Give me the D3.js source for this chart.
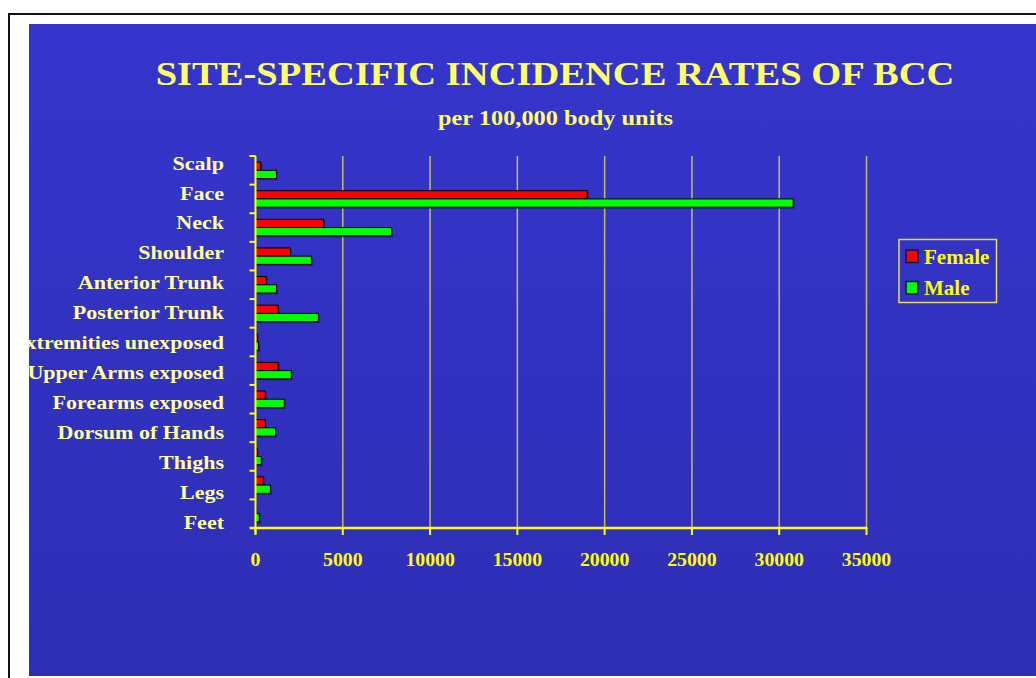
<!DOCTYPE html>
<html>
<head>
<meta charset="utf-8">
<script src="https://cdn.jsdelivr.net/npm/d3@7"></script>
<style>
  html, body { margin: 0; padding: 0; background: #ffffff; overflow: hidden; }
  svg { display: block; }
  text { font-family: "Liberation Serif", "Times New Roman", serif; font-weight: bold; }
</style>
</head>
<body>
<svg id="chart" width="1036" height="678"></svg>
<script>
// ---- data ----
const categories = ["Scalp", "Face", "Neck", "Shoulder", "Anterior Trunk", "Posterior Trunk",
  "Extremities unexposed", "Upper Arms exposed", "Forearms exposed", "Dorsum of Hands",
  "Thighs", "Legs", "Feet"];
const labelTexts = ["Scalp", "Face ", "Neck", "Shoulder", "Anterior Trunk", "Posterior Trunk",
  "Extremities unexposed", "Upper Arms exposed", "Forearms exposed", "Dorsum of Hands",
  "Thighs", "Legs", "Feet"];
const seriesNames = ["Female", "Male"];
const female = [300, 19000, 3900, 2000, 620, 1300, 100, 1300, 560, 560, 100, 450, 20];
const male = [1200, 30800, 7800, 3200, 1200, 3600, 180, 2050, 1650, 1150, 330, 850, 220];
const xTicks = [0, 5000, 10000, 15000, 20000, 25000, 30000, 35000];
const seriesColors = ["#ff0000", "#00ff00"];
const titleText = "SITE-SPECIFIC INCIDENCE RATES OF BCC";
const subtitleText = "per 100,000 body units";

const svg = d3.select("#chart");

// page frame
const defs = svg.append("defs");
const grad = defs.append("linearGradient").attr("id", "bg").attr("x1", 0).attr("y1", 0).attr("x2", 0).attr("y2", 1);
grad.append("stop").attr("offset", "0%").attr("stop-color", "#3535cc");
grad.append("stop").attr("offset", "100%").attr("stop-color", "#2e2eb6");
defs.append("clipPath").attr("id", "slide").append("rect")
  .attr("x", 29).attr("y", 24).attr("width", 1100).attr("height", 652);

svg.append("rect").attr("x", 9).attr("y", 14).attr("width", 1200).attr("height", 1000)
  .attr("fill", "#ffffff").attr("stroke", "#111").attr("stroke-width", 2);
svg.append("rect").attr("x", 29).attr("y", 24).attr("width", 1100).attr("height", 652)
  .attr("fill", "url(#bg)");

const content = svg.append("g").attr("clip-path", "url(#slide)");

// titles
content.append("text").attr("transform", `translate(555,85) scale(1.134,1)`).attr("text-anchor", "middle")
  .attr("font-size", 34).attr("fill", "#ffff66").text(titleText);
content.append("text").attr("transform", `translate(555.5,125) scale(1.16,1)`).attr("text-anchor", "middle")
  .attr("font-size", 21).attr("fill", "#ffff66").text(subtitleText);

// scales
const x0 = 255.5, x1 = 866.5, yTop = 156, yBot = 528;
const x = d3.scaleLinear().domain([0, 35000]).range([x0, x1]);
const y = d3.scaleBand().domain(categories).range([yTop, yBot]).padding(0);
const ySub = d3.scaleBand().domain(seriesNames).range([0, y.bandwidth()]).paddingInner(0).paddingOuter(0.74);
const yLabel = d3.scalePoint().domain(categories).range([163, 522]);

// gridlines
content.append("g").selectAll("line").data(xTicks.slice(1)).join("line")
  .attr("x1", d => x(d)).attr("x2", d => x(d)).attr("y1", yTop).attr("y2", yBot)
  .attr("stroke", "#c4bc64").attr("stroke-width", 1.5);

// bars
const rows = categories.map((c, i) => ({ c, vals: [female[i], male[i]] }));
const g = content.append("g");
rows.forEach(r => {
  r.vals.forEach((v, j) => {
    const yy = y(r.c) + ySub(seriesNames[j]);
    const w = x(v) - x(0);
    g.append("rect").attr("x", x(0) + 1.5).attr("y", yy + 1.5).attr("width", w).attr("height", ySub.bandwidth())
      .attr("fill", "#1a1a66").attr("opacity", 0.8);
    g.append("rect").attr("x", x(0)).attr("y", yy).attr("width", w).attr("height", ySub.bandwidth())
      .attr("fill", seriesColors[j]).attr("stroke", "#000").attr("stroke-width", 1);
  });
});

// y axis
const yAxis = content.append("g");
yAxis.append("line").attr("x1", x0).attr("x2", x0).attr("y1", yTop).attr("y2", yBot + 6)
  .attr("stroke", "#ffff00").attr("stroke-width", 2);
yAxis.selectAll("line.tk").data(categories).join("line").attr("class", "tk")
  .attr("x1", x0 - 6).attr("x2", x0).attr("y1", d => y(d)).attr("y2", d => y(d))
  .attr("stroke", "#ffff00").attr("stroke-width", 2);
yAxis.selectAll("text").data(categories).join("text")
  .attr("transform", d => `translate(224,${yLabel(d)}) scale(1.16,1)`).attr("dy", "0.35em")
  .attr("text-anchor", "end").attr("font-size", 19).attr("fill", "#ffff99")
  .text((d, i) => labelTexts[i]);

// x axis
const xAxis = content.append("g");
xAxis.append("line").attr("x1", x0 - 6).attr("x2", x1 + 1).attr("y1", yBot).attr("y2", yBot)
  .attr("stroke", "#ffff00").attr("stroke-width", 2.5);
xAxis.selectAll("line.tk").data(xTicks).join("line").attr("class", "tk")
  .attr("x1", d => x(d)).attr("x2", d => x(d)).attr("y1", yBot).attr("y2", yBot + 7)
  .attr("stroke", "#ffff00").attr("stroke-width", 2);
xAxis.selectAll("text").data(xTicks).join("text")
  .attr("transform", d => `translate(${x(d)},566) scale(1.04,1)`).attr("text-anchor", "middle")
  .attr("font-size", 19).attr("fill", "#ffff00").text(d => d);

// legend
const lg = content.append("g");
lg.append("rect").attr("x", 899).attr("y", 239.5).attr("width", 97.5).attr("height", 63)
  .attr("fill", "none").attr("stroke", "#e8e050").attr("stroke-width", 1.5);
seriesNames.forEach((s, j) => {
  const yy = [250, 281.5][j];
  lg.append("rect").attr("x", 906).attr("y", yy).attr("width", 12).attr("height", 12.5)
    .attr("fill", seriesColors[j]).attr("stroke", "#111144").attr("stroke-width", 1.5);
  lg.append("text").attr("x", 924).attr("y", yy + 13.5).attr("font-size", 21)
    .attr("fill", "#ffff00").text(s);
});
</script>
</body>
</html>
